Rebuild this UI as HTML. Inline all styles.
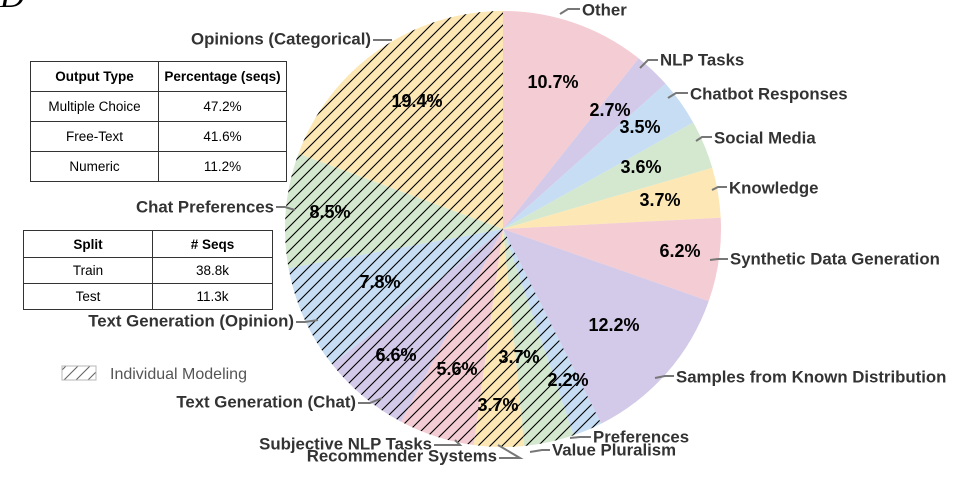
<!DOCTYPE html>
<html><head><meta charset="utf-8"><style>
body{margin:0;background:#fff;width:974px;height:486px;overflow:hidden;position:relative;font-family:"Liberation Sans",sans-serif}
table{position:absolute;border-collapse:collapse;font-size:13.5px;color:#000}
td,th{border:1px solid #333;text-align:center;padding:0}
</style></head><body>
<div style="position:absolute;left:0;top:-22px;font:italic 34px 'Liberation Serif',serif;color:#000">D</div>
<table style="left:30px;top:61px;width:257px">
<tr style="height:30px"><th style="width:127px">Output Type</th><th>Percentage (seqs)</th></tr>
<tr style="height:30px"><td>Multiple Choice</td><td>47.2%</td></tr>
<tr style="height:30px"><td>Free-Text</td><td>41.6%</td></tr>
<tr style="height:30px"><td>Numeric</td><td>11.2%</td></tr>
</table>
<table style="left:23px;top:230px;width:250px">
<tr style="height:27px"><th style="width:128px">Split</th><th># Seqs</th></tr>
<tr style="height:26px"><td>Train</td><td>38.8k</td></tr>
<tr style="height:26px"><td>Test</td><td>11.3k</td></tr>
</table>
<svg width="974" height="486" style="position:absolute;left:0;top:0">
<defs><pattern id="h" patternUnits="userSpaceOnUse" width="12" height="12"><path d="M-3,15 L15,-3 M-9,9 L9,-9 M3,21 L21,3" stroke="#000" stroke-width="1.1"/></pattern></defs>
<g id="pie"></g>
<rect x="62" y="366" width="34" height="14" fill="url(#h)" stroke="#888" opacity="0.6"/>
<text x="110" y="379" font-size="16" fill="#555">Individual Modeling</text>
<g font-size="18" font-weight="bold" fill="#000" text-anchor="middle" dominant-baseline="middle">
<text x="417" y="102">19.4%</text><text x="553" y="83">10.7%</text><text x="610" y="111">2.7%</text>
<text x="640" y="128">3.5%</text><text x="641" y="168">3.6%</text><text x="660" y="201">3.7%</text>
<text x="680" y="252">6.2%</text><text x="614" y="326">12.2%</text><text x="330" y="213">8.5%</text>
<text x="380" y="283">7.8%</text><text x="396" y="356">6.6%</text><text x="457" y="370">5.6%</text>
<text x="519" y="358">3.7%</text><text x="568" y="381">2.2%</text><text x="498" y="406">3.7%</text>
</g>
<g stroke="#777" stroke-width="2" fill="none">
<path d="M560,14 L568,9 L580,9"/><path d="M640,68 L648,60 L658,60"/><path d="M668,98 L676,93 L688,93"/>
<path d="M696,141 L702,137 L712,137"/><path d="M712,190 L718,187 L727,187"/><path d="M710,260 L718,259 L728,259"/>
<path d="M655,378 L665,376 L674,376"/><path d="M570,438 L580,437 L591,437"/><path d="M530,452 L542,450 L550,450"/>
<path d="M498,445 L520,458 L499,458"/><path d="M455,440 L460,445 L434,445"/><path d="M382,398 L370,403 L358,403"/>
<path d="M318,320 L305,322 L296,322"/><path d="M295,210 L285,207 L276,207"/><path d="M392,40 L380,40 L373,40"/>
</g>
<g font-size="16.8" font-weight="bold" fill="#333" dominant-baseline="middle">
<text x="582" y="11">Other</text><text x="660" y="61">NLP Tasks</text><text x="690" y="95">Chatbot Responses</text>
<text x="714" y="139">Social Media</text><text x="729" y="189">Knowledge</text><text x="730" y="260">Synthetic Data Generation</text>
<text x="676" y="378">Samples from Known Distribution</text><text x="593" y="438">Preferences</text><text x="552" y="451">Value Pluralism</text>
<g text-anchor="end"><text x="497" y="457">Recommender Systems</text><text x="432" y="445">Subjective NLP Tasks</text>
<text x="356" y="403">Text Generation (Chat)</text><text x="294" y="322">Text Generation (Opinion)</text>
<text x="274" y="208">Chat Preferences</text><text x="371" y="40">Opinions (Categorical)</text></g>
</g>
</svg>
<script>
var P="#f4ccd3",L="#d3c9e8",B="#c6ddf4",G="#d4e8cf",Y="#fde8b5";
var d=[[10.7,P,0],[2.7,L,0],[3.5,B,0],[3.6,G,0],[3.7,Y,0],[6.2,P,0],[12.2,L,0],[2.2,B,1],[3.7,G,1],[3.7,Y,1],[5.6,P,1],[6.6,L,1],[7.8,B,1],[8.5,G,1],[19.4,Y,1]];
var cx=503,cy=229,r=218,a=0,s="",tot=100.1;
d.forEach(function(e){var a2=a+e[0]/tot*2*Math.PI;
var x1=cx+r*Math.sin(a),y1=cy-r*Math.cos(a),x2=cx+r*Math.sin(a2),y2=cy-r*Math.cos(a2);
var p="M"+cx+","+cy+" L"+x1+","+y1+" A"+r+","+r+" 0 "+((a2-a)>Math.PI?1:0)+" 1 "+x2+","+y2+"Z";
s+='<path d="'+p+'" fill="'+e[1]+'"/>';if(e[2])s+='<path d="'+p+'" fill="url(#h)"/>';a=a2;});
document.getElementById("pie").innerHTML=s;
</script>
</body></html>
